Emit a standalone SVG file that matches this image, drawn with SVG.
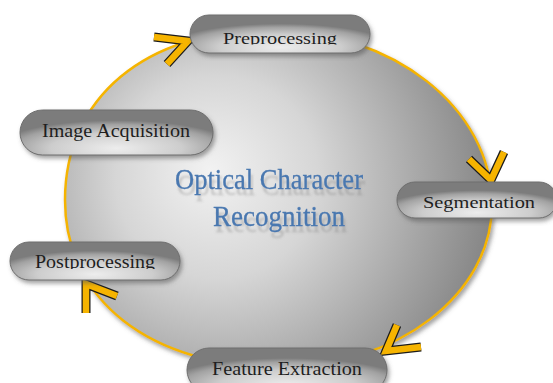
<svg xmlns="http://www.w3.org/2000/svg" width="553" height="383" viewBox="0 0 553 383">
<defs>
  <radialGradient id="bigFill" gradientUnits="userSpaceOnUse" cx="230" cy="190" r="290" fx="210" fy="170">
    <stop offset="0" stop-color="#f2f2f2"/>
    <stop offset="0.35" stop-color="#d6d6d6"/>
    <stop offset="0.7" stop-color="#a4a4a4"/>
    <stop offset="1" stop-color="#7a7a7a"/>
  </radialGradient>
  <radialGradient id="pillFill" cx="50%" cy="85%" r="62%">
    <stop offset="0" stop-color="#ededed"/>
    <stop offset="0.55" stop-color="#cdcdcd"/>
    <stop offset="0.85" stop-color="#a2a2a2"/>
    <stop offset="1" stop-color="#7c7c7c"/>
  </radialGradient>
  <filter id="shadow" x="-10%" y="-10%" width="125%" height="130%">
    <feDropShadow dx="2" dy="3" stdDeviation="2" flood-color="#555" flood-opacity="0.55"/>
  </filter>
  <filter id="titleGhost" x="-10%" y="-20%" width="120%" height="160%">
    <feOffset in="SourceAlpha" dx="2" dy="6" result="off"/>
    <feGaussianBlur in="off" stdDeviation="1.2" result="bl"/>
    <feFlood flood-color="#6a6a6a" flood-opacity="0.3"/>
    <feComposite in2="bl" operator="in" result="sh"/>
    <feMerge><feMergeNode in="sh"/><feMergeNode in="SourceGraphic"/></feMerge>
  </filter>
  <clipPath id="clipPre"><rect x="180" y="0" width="200" height="44.5"/></clipPath>
  <clipPath id="clipPost"><rect x="0" y="230" width="200" height="39"/></clipPath>
  <style>
    .pill { fill: url(#pillFill); stroke: #6e6e6e; stroke-width: 1; filter: url(#shadow); }
    .lbl { font-family: "Liberation Serif", "Times New Roman", serif; fill: #1e1e1e; text-anchor: middle; }
    .title { font-family: "Liberation Serif", "Times New Roman", serif; font-size: 30px; fill: #4a78b0; stroke: #4a78b0; stroke-width: 0.3; text-anchor: middle; }
    .arrowOut { fill: none; stroke: #1c1c1c; stroke-width: 9; stroke-linejoin: miter; stroke-miterlimit: 10; stroke-linecap: butt; }
    .arrowIn { fill: none; stroke: #f6b400; stroke-width: 6.5; stroke-linejoin: miter; stroke-miterlimit: 10; stroke-linecap: butt; }
  </style>
</defs>
<rect width="553" height="383" fill="#ffffff"/>

<g id="cycle">
  <path d="M270,30 C392,30 492,108 492,205 C492,294 397,367 280,367 C150,367 65,300 65,200 C65,98 145,30 270,30 Z"
        fill="url(#bigFill)" stroke="#f5b400" stroke-width="2.5" filter="url(#shadow)"/>
</g>

<g id="title" filter="url(#titleGhost)">
  <text class="title" x="269" y="189" textLength="188" lengthAdjust="spacingAndGlyphs">Optical Character</text>
  <text class="title" x="279" y="226" textLength="132" lengthAdjust="spacingAndGlyphs">Recognition</text>
</g>

<g id="connectors">
  <polyline class="arrowOut" points="154,37 188,41 167,64"/>
  <polyline class="arrowIn" points="154,37 188,41 167,64"/>
  <polyline class="arrowOut" points="469,159 491,180 504,152"/>
  <polyline class="arrowIn" points="469,159 491,180 504,152"/>
  <polyline class="arrowOut" points="397,325 386,351 421,347"/>
  <polyline class="arrowIn" points="397,325 386,351 421,347"/>
  <polyline class="arrowOut" points="117,296 86,284 86,313"/>
  <polyline class="arrowIn" points="117,296 86,284 86,313"/>
</g>

<g id="node-preprocessing">
  <rect class="pill" x="190" y="15" width="180" height="38" rx="19"/>
  <text class="lbl" x="280" y="43.5" font-size="17" textLength="114" lengthAdjust="spacingAndGlyphs" clip-path="url(#clipPre)">Preprocessing</text>
</g>

<g id="node-image-acquisition">
  <rect class="pill" x="20" y="110" width="193" height="45" rx="22.5"/>
  <text class="lbl" x="116" y="137" font-size="18" textLength="148" lengthAdjust="spacingAndGlyphs">Image Acquisition</text>
</g>

<g id="node-segmentation">
  <rect class="pill" x="397" y="182" width="160" height="36" rx="18"/>
  <text class="lbl" x="479" y="208" font-size="16" textLength="112" lengthAdjust="spacingAndGlyphs">Segmentation</text>
</g>

<g id="node-postprocessing">
  <rect class="pill" x="10" y="242" width="170" height="38" rx="19"/>
  <text class="lbl" x="95" y="268" font-size="18" textLength="120" lengthAdjust="spacingAndGlyphs" clip-path="url(#clipPost)">Postprocessing</text>
</g>

<g id="node-feature-extraction">
  <rect class="pill" x="187" y="348" width="200" height="44" rx="22"/>
  <text class="lbl" x="287" y="375" font-size="18" textLength="150" lengthAdjust="spacingAndGlyphs">Feature Extraction</text>
</g>
</svg>
